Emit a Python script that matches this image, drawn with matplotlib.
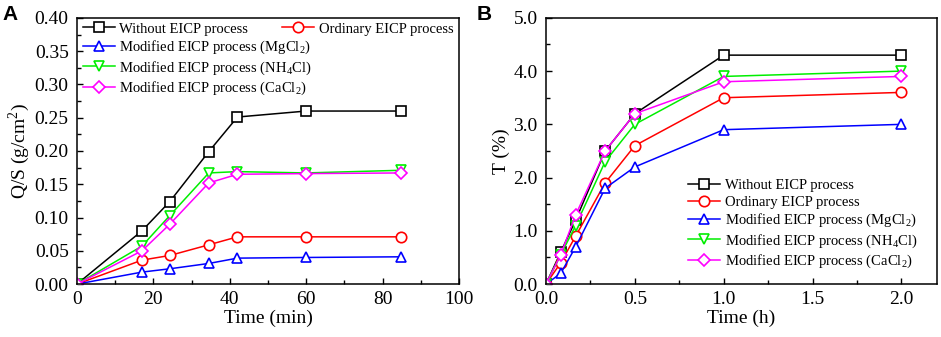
import numpy as np
import matplotlib
matplotlib.use("Agg")
import matplotlib.pyplot as plt
from matplotlib.ticker import MultipleLocator, FormatStrFormatter

plt.rcParams["font.family"] = ["Liberation Serif", "DejaVu Serif"]
plt.rcParams["mathtext.fontset"] = "custom"
plt.rcParams["mathtext.rm"] = "Liberation Serif"

# ---- panel A: Q/S vs time (min)
time_min = [0, 17, 24.3, 34.5, 42, 60, 84.8]
qs_without = [0, 0.080, 0.124, 0.199, 0.251, 0.260, 0.260]
qs_ordinary = [0, 0.036, 0.043, 0.059, 0.071, 0.071, 0.071]
qs_mgcl2 = [0, 0.018, 0.023, 0.031, 0.039, 0.040, 0.041]
qs_nh4cl = [0, 0.057, 0.103, 0.167, 0.169, 0.167, 0.171]
qs_cacl2 = [0, 0.050, 0.090, 0.152, 0.165, 0.166, 0.167]

# ---- panel B: T vs time (h)
time_h = [0, 0.083, 0.167, 0.333, 0.5, 1.0, 2.0]
t_without = [0, 0.6, 1.2, 2.5, 3.2, 4.3, 4.3]
t_ordinary = [0, 0.4, 0.9, 1.9, 2.6, 3.5, 3.6]
t_mgcl2 = [0, 0.2, 0.7, 1.8, 2.2, 2.9, 3.0]
t_nh4cl = [0, 0.55, 1.1, 2.3, 3.0, 3.9, 4.0]
t_cacl2 = [0, 0.55, 1.3, 2.5, 3.2, 3.8, 3.9]

labels = ["Without EICP process", "Ordinary EICP process",
          "Modified EICP process (MgCl$_2$)",
          "Modified EICP process (NH$_4$Cl)",
          "Modified EICP process (CaCl$_2$)"]
colors = ["black", "#FF0000", "#0000FF", "#00EE00", "#FF00FF"]
markers = ["s", "o", "^", "v", "D"]
msizes = [6.5, 7.5, 7.5, 7.5, 6.5]

fig = plt.figure(figsize=(9.41, 3.37), dpi=100)
axA = fig.add_axes([0.0818, 0.157, 0.406, 0.790])
axB = fig.add_axes([0.5802, 0.157, 0.4155, 0.790])

def style(ax):
    for s in ax.spines.values():
        s.set_linewidth(1.1)
    ax.tick_params(which="both", direction="in", top=False, right=False,
                   labelsize=14, width=1.0)
    ax.tick_params(which="major", length=4.5)
    ax.tick_params(which="minor", length=3)
    ax.tick_params(axis="y", which="both", pad=6)
    ax.tick_params(axis="x", which="both", pad=5)

legkw = dict(frameon=False, fontsize=10.5, handlelength=2.2,
             handletextpad=0.3, labelspacing=0.22, borderpad=0.2,
             borderaxespad=0.2)

handles = []
for ys, c, m, ms, lab in zip([qs_without, qs_ordinary, qs_mgcl2, qs_nh4cl, qs_cacl2],
                             colors, markers, msizes, labels):
    h, = axA.plot(time_min, ys, color=c, marker=m, ms=ms, mfc="white",
                  mec=c, mew=1.2, lw=1.1, label=lab)
    handles.append(h)
for ys, c, m, ms, lab in zip([t_without, t_ordinary, t_mgcl2, t_nh4cl, t_cacl2],
                             colors, markers, msizes, labels):
    axB.plot(time_h, ys, color=c, marker=m, ms=ms, mfc="white",
             mec=c, mew=1.2, lw=1.1, label=lab)

axA.set_xlim(0, 100)
axA.set_ylim(0, 0.40)
axA.xaxis.set_major_locator(MultipleLocator(20))
axA.xaxis.set_minor_locator(MultipleLocator(10))
axA.yaxis.set_major_locator(MultipleLocator(0.05))
axA.yaxis.set_minor_locator(MultipleLocator(0.025))
axA.yaxis.set_major_formatter(FormatStrFormatter("%.2f"))
axA.set_xlabel("Time (min)", fontsize=14, labelpad=1)
axA.set_ylabel("Q/S (g/cm$^2$)", fontsize=14, labelpad=2)
style(axA)

# left column: Without + modified processes; "Ordinary" sits top right
leg1 = axA.legend([handles[0], handles[2], handles[3], handles[4]],
                  [labels[0], labels[2], labels[3], labels[4]],
                  loc="upper left", bbox_to_anchor=(0.0, 1.005), **legkw)
axA.add_artist(leg1)
axA.legend([handles[1]], [labels[1]], loc="upper right",
           bbox_to_anchor=(1.0, 1.005), **legkw)

axB.set_xlim(0, 2.2)
axB.set_ylim(0, 5.0)
axB.xaxis.set_major_locator(MultipleLocator(0.5))
axB.xaxis.set_minor_locator(MultipleLocator(0.25))
axB.yaxis.set_major_locator(MultipleLocator(1.0))
axB.yaxis.set_minor_locator(MultipleLocator(0.5))
axB.xaxis.set_major_formatter(FormatStrFormatter("%.1f"))
axB.yaxis.set_major_formatter(FormatStrFormatter("%.1f"))
axB.set_xlabel("Time (h)", fontsize=14, labelpad=1)
axB.set_ylabel("T (%)", fontsize=14, labelpad=2)
style(axB)
axB.legend(loc="lower right", bbox_to_anchor=(0.965, 0.03), **legkw)

fig.text(0.003, 0.985, "A", fontsize=15, fontweight="bold",
         family="Liberation Sans", va="top")
fig.text(0.507, 0.985, "B", fontsize=15, fontweight="bold",
         family="Liberation Sans", va="top")

fig.savefig("out.png", dpi=100)
